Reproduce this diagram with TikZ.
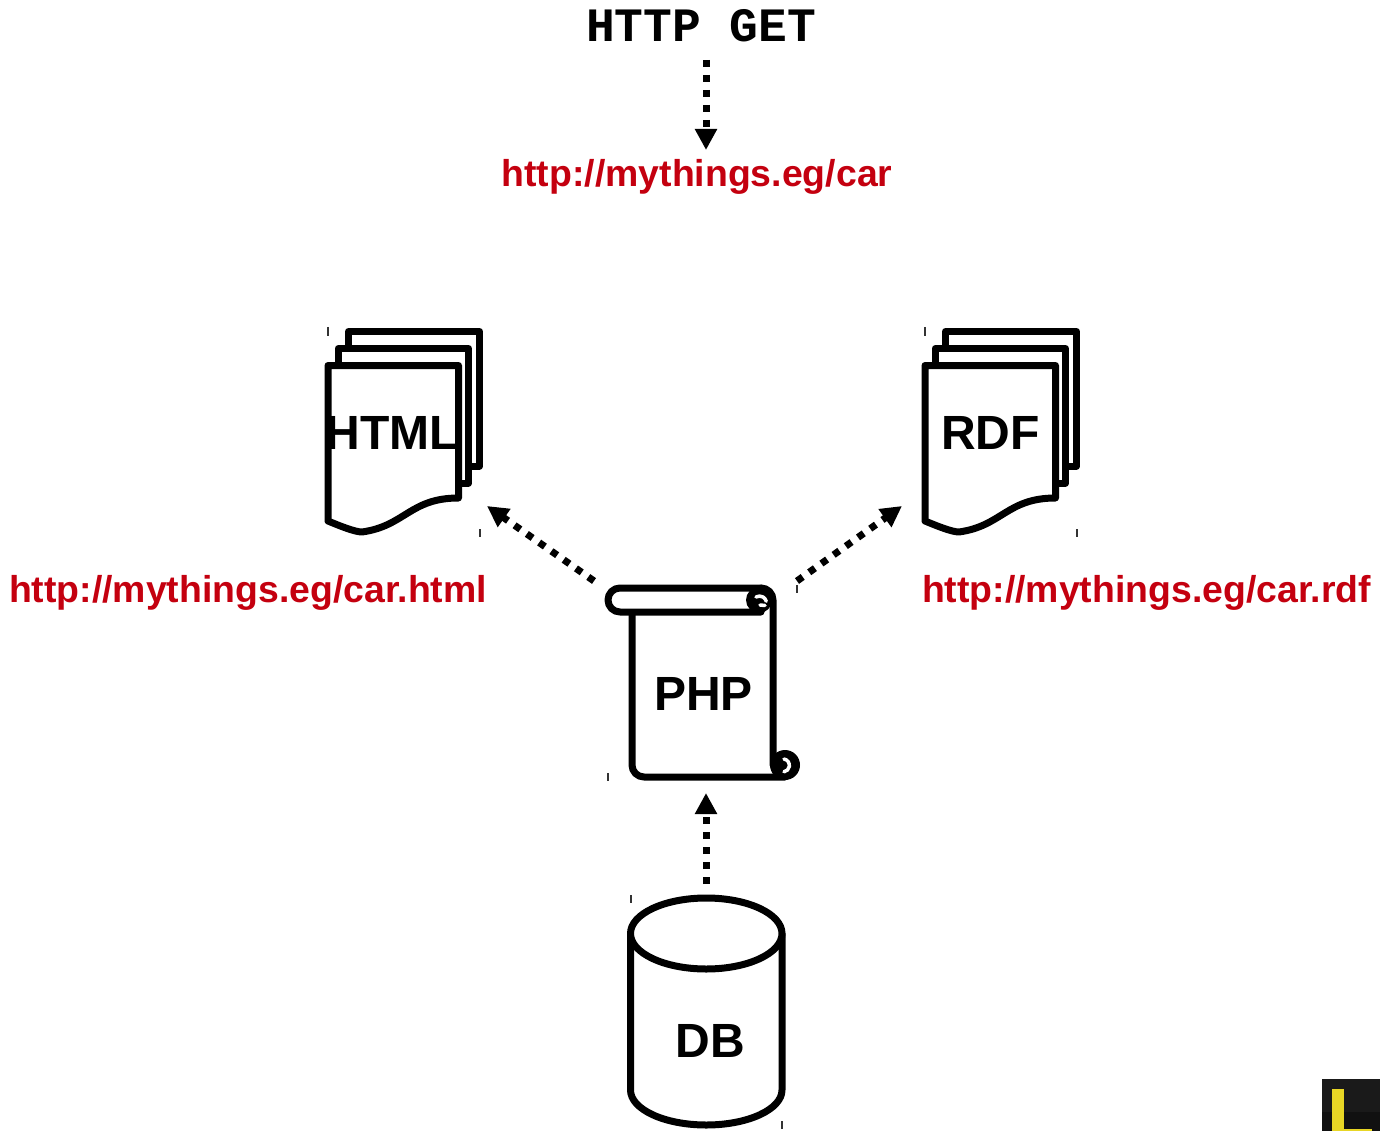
\documentclass[tikz,border=0pt]{standalone}
\usepackage{fontspec}
\setmainfont{Liberation Sans}
\setmonofont{Liberation Mono}
\usetikzlibrary{arrows.meta}

\definecolor{Link}{HTML}{C4000F}
\definecolor{Badge}{HTML}{1A1A1A}
\definecolor{BadgeLow}{HTML}{111111}
\definecolor{BadgeYellow}{HTML}{E8D625}

\tikzset{
  shape line/.style={line width=7, line join=round, line cap=round, fill=white},
  curl/.style={line width=3.5, color=white, line cap=round},
  flow/.style={line width=7, dash pattern=on 7 off 8, -{Triangle[width=21,length=21]}},
  handle/.style={line width=1.2, color=black!80},
  url/.style={font=\fontsize{37.4}{37.4}\selectfont\bfseries, color=Link},
  box label/.style={font=\fontsize{48}{48}\selectfont\bfseries}
}

\begin{document}
\begin{tikzpicture}[x=1pt, y=-1pt]

 \useasboundingbox (0,0) rectangle (1383,1131);

 %%%%%%%%%% Points pour les fleches %%%%%%%%%%
 \coordinate (get start) at (706,60);
 \coordinate (get end) at (706,150);
 \coordinate (html start) at (594,581);
 \coordinate (html end) at (487,506);
 \coordinate (rdf start) at (797,581);
 \coordinate (rdf end) at (902,506);
 \coordinate (db start) at (706,884);
 \coordinate (db end) at (706,793);

 %%%%%%%%%% Document stacks %%%%%%%%%%
 \foreach \dx in {0,597} {
  \begin{scope}[xshift=\dx]
   \draw [shape line] (348.5,331.5) -- (479.5,331.5) -- (479.5,466) -- (348.5,466) -- cycle ;
   \draw [shape line] (338,348.5) -- (468.5,348.5) -- (468.5,483) -- (338,483) -- cycle ;
   \draw [shape line] (328,365.5) -- (458.5,365.5) -- (458.5,498)
     .. controls (410,498) and (405,526) .. (362,532) .. controls (355,532) and (340,526) .. (328,521) -- cycle ;
   \draw [handle] (328,327) -- (328,336);
   \draw [handle] (480,529) -- (480,537);
  \end{scope}
 }

 %%%%%%%%%% Scroll %%%%%%%%%%
 \draw [shape line, fill=none] (632,611) -- (632,765) arc (180:90:12) -- (785,777) ;
 \draw [shape line] (620,588) -- (761,588) -- (761,612) -- (620,612) arc (90:270:12) -- cycle ;
 \draw [shape line, fill=none] (761,588) arc (-90:0:12) -- (773,765) ;
 % Rolls
 \fill (759,600) circle (13) ;
 \draw [curl] (756,597) arc (-120:-15:7) ;
 \draw [curl] (760,605) -- (765,605.5) ;
 \fill (785,765) circle (15) ;
 \draw [curl] (784,759) arc (-80:80:6.5) ;

 %%%%%%%%%% Database %%%%%%%%%%
 \draw [shape line] (630.5,933.5) -- (630.5,1090) arc (180:0:75.75 and 35) -- (782,933.5) ;
 \draw [shape line] (706.25,933.5) ellipse (75.75 and 35.5) ;

 %%%%%%%%%%% Arrows %%%%%%%%%%%
 \draw [flow] (get start) -- (get end) ;
 \draw [flow] (html start) -- (html end) ;
 \draw [flow] (rdf start) -- (rdf end) ;
 \draw [flow] (db start) -- (db end) ;

 %%%%%%%%%%% Handles %%%%%%%%%%%
 \draw [handle] (797,585) -- (797,593);
 \draw [handle] (608,773) -- (608,781);
 \draw [handle] (631,895) -- (631,903);
 \draw [handle] (782,1121) -- (782,1129);

 %%%%%%%%%%% Labels %%%%%%%%%%%
 \node (get label) at (701,26) {\fontsize{47.9}{47.9}\selectfont\ttfamily\bfseries HTTP GET};
 \node [url] (car url) at (697,177) {http://mythings.eg/car};
 \node [url] (html url) at (248,593) {http://mythings.eg/car.html};
 \node [url] (rdf url) at (1146.5,593) {http://mythings.eg/car.rdf};
 \node [box label] (html label) at (392.5,433) {HTML};
 \node [box label] (rdf label) at (990.5,433) {RDF};
 \node [box label] (php label) at (703.5,694) {PHP};
 \node [box label] (db label) at (710.5,1041) {DB};

 %%%%%%%%%%% Corner badge %%%%%%%%%%%
 \fill [color=Badge] (1322,1079) rectangle (1380,1112);
 \fill [color=BadgeLow] (1322,1112) rectangle (1380,1131);
 \fill [color=BadgeYellow] (1332,1089) rectangle (1344,1131);
 \fill [color=BadgeYellow] (1344,1129) rectangle (1372,1131);

\end{tikzpicture}
\end{document}
